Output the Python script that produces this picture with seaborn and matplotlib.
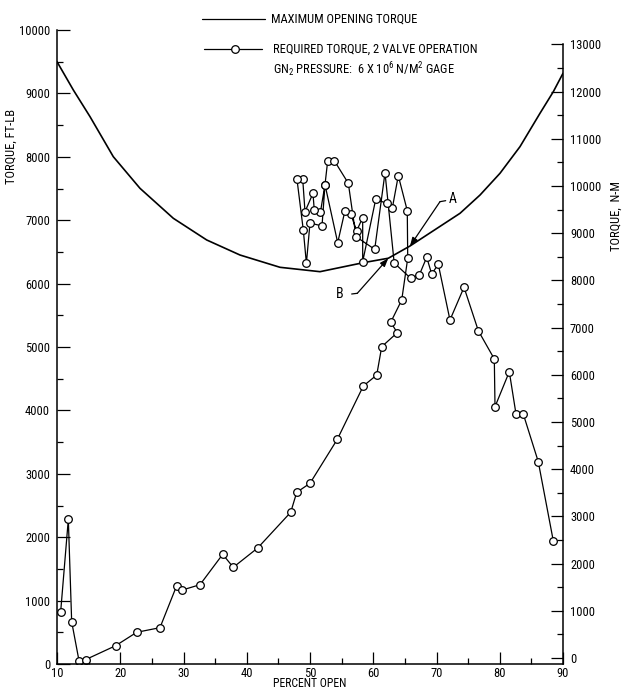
import matplotlib
matplotlib.use("Agg")
import matplotlib.pyplot as plt
from matplotlib.lines import Line2D
from matplotlib.ticker import MultipleLocator
from matplotlib import font_manager
import pandas as pd
import seaborn as sns

# Maximum opening torque envelope (ft-lb) vs percent open
max_open_pct = [10.0, 12.58, 15.22, 18.90, 23.12, 28.39, 33.67, 38.93, 45.26, 51.58,
                58.43, 62.38, 65.81, 73.72, 76.88, 80.04, 83.20, 86.36, 88.47, 90.0]
max_open_torque = [9500, 9054, 8633, 8002, 7503, 7030, 6688, 6451, 6257, 6188,
                   6330, 6400, 6593, 7109, 7397, 7740, 8160, 8686, 9027, 9317]

# Required torque, 2 valve operation, in the order the readings were taken
req_pct = [10.58, 11.79, 12.32, 13.48, 14.54, 19.28, 22.60, 26.28, 28.92, 29.81,
           32.61, 36.20, 37.87, 41.73, 46.95, 47.90, 50.00, 54.32, 58.43, 60.55,
           61.34, 63.80, 62.76, 64.50, 65.45, 65.38, 63.96, 63.01, 62.13, 60.39,
           58.33, 58.33, 57.38, 56.43, 55.53, 54.38, 52.37, 51.66, 50.68, 50.47,
           49.21, 48.85, 47.94, 48.94, 49.43, 50.00, 51.90, 52.37, 52.80, 53.84,
           56.06, 57.27, 60.23, 61.86, 63.31, 65.92, 67.28, 68.45, 69.24, 70.28,
           72.13, 74.35, 76.61, 79.14, 79.25, 81.51, 82.57, 83.72, 86.09, 88.47]
req_torque = [825, 2282, 667, 52, 70, 289, 500, 573, 1235, 1167,
              1251, 1730, 1525, 1830, 2393, 2708, 2850, 3544, 4385, 4558,
              5005, 5226, 5390, 5741, 6399, 7150, 7702, 7188, 7266, 7330,
              6346, 7040, 6834, 7098, 7150, 6645, 7560, 7134, 7153, 7424,
              7134, 7645, 7645, 6845, 6320, 6956, 6909, 7560, 7939, 7939,
              7582, 6740, 6541, 7749, 6325, 6084, 6136, 6415, 6151, 6305,
              5426, 5942, 5257, 4811, 4058, 4610, 3943, 3943, 3191, 1940]

x_ticks = [10, 20, 30, 40, 50, 60, 70, 80, 90]
ftlb_ticks = list(range(0, 10001, 1000))
nm_ticks = list(range(0, 13001, 1000))

# Callouts: letter position, bend of the leader, point on the envelope
callout_a = {"text": (72.62, 7330), "tail": (71.45, 7308), "bend": (70.55, 7292), "tip": (65.81, 6593)}
callout_b = {"text": (54.63, 5836), "tail": (56.59, 5836), "bend": (57.48, 5847), "tip": (62.38, 6400)}

sns.set_style("ticks", rc={"axes.edgecolor": "black", "text.color": "black",
                           "xtick.color": "black", "ytick.color": "black",
                           "axes.labelcolor": "black"})

# Prefer a narrow lettering face
installed = {f.name for f in font_manager.fontManager.ttflist}
families = [f for f in ("Liberation Sans Narrow", "Roboto Condensed", "Roboto",
                        "DejaVu Sans") if f in installed] or ["DejaVu Sans"]
narrow = families[0] in ("Liberation Sans Narrow", "Roboto Condensed")
plt.rcParams["font.family"] = families + (["DejaVu Sans"] if "DejaVu Sans" not in families else [])
plt.rcParams["mathtext.default"] = "regular"

FS = 9.0 if narrow else 8.2
TICK_FS = 9.0 if narrow else 8.4

W, H = 622, 689
fig = plt.figure(figsize=(W / 100, H / 100), dpi=100)
fig.patch.set_facecolor("white")
ax = fig.add_axes([57 / W, 1 - 664 / H, 506 / W, 634 / H])

max_df = pd.DataFrame({"pct": max_open_pct, "torque": max_open_torque})
req_df = pd.DataFrame({"pct": req_pct, "torque": req_torque})

sns.lineplot(data=max_df, x="pct", y="torque", sort=False, estimator=None,
             color="black", linewidth=1.2, ax=ax)
sns.lineplot(data=req_df, x="pct", y="torque", sort=False, estimator=None,
             color="black", linewidth=0.9, marker="o", markersize=5.5,
             markerfacecolor="white", markeredgecolor="black",
             markeredgewidth=0.9, ax=ax)

ax.set_xlim(10, 90)
ax.set_ylim(0, 10000)
ax.set_xticks(x_ticks)
ax.set_yticks(ftlb_ticks)
ax.xaxis.set_minor_locator(MultipleLocator(5))
ax.yaxis.set_minor_locator(MultipleLocator(500))
ax.tick_params(axis="both", which="major", direction="in", length=9, width=0.9,
               labelsize=TICK_FS)
ax.tick_params(axis="both", which="minor", direction="in", length=4.5, width=0.9)
ax.tick_params(axis="x", which="major", pad=2)
ax.tick_params(axis="y", which="major", pad=5)
for s in ("top", "right"):
    ax.spines[s].set_visible(False)
for s in ("left", "bottom"):
    ax.spines[s].set_linewidth(1.1)

ax.set_xlabel("PERCENT OPEN", fontsize=FS - 0.5)
ax.xaxis.set_label_coords(0.5, -0.0205)
ax.set_ylabel("TORQUE, FT-LB", fontsize=FS)
ax.yaxis.set_label_coords(-0.078, 0.817)

# Second scale in newton-metres
ax2 = ax.twinx()
ax2.set_ylim(-127, 13305)
ax2.set_yticks(nm_ticks)
ax2.yaxis.set_minor_locator(MultipleLocator(500))
ax2.tick_params(axis="y", which="major", direction="in", length=9, width=0.9,
                labelsize=TICK_FS, pad=5)
ax2.tick_params(axis="y", which="minor", direction="in", length=4.5, width=0.9)
for s in ("top", "left", "bottom"):
    ax2.spines[s].set_visible(False)
ax2.spines["right"].set_bounds(-127, 13000)
ax2.spines["right"].set_linewidth(1.1)
ax2.set_ylabel("TORQUE,  N-M", fontsize=FS)
ax2.yaxis.set_label_coords(1.093, 0.707)

# Callouts A and B
for lab, c in (("A", callout_a), ("B", callout_b)):
    ax.text(*c["text"], lab, fontsize=FS + 1, ha="center", va="center")
    ax.plot([c["tail"][0], c["bend"][0]], [c["tail"][1], c["bend"][1]],
            color="black", lw=0.9)
    ax.annotate("", xy=c["tip"], xytext=c["bend"],
                arrowprops=dict(arrowstyle="-|>,head_length=0.5,head_width=0.18",
                                color="black", lw=0.9, shrinkA=0, shrinkB=0))

# Key above the plot
def fx(px):
    return px / W

def fy(py):
    return 1 - py / H

fig.add_artist(Line2D([fx(202), fx(265)], [fy(19), fy(19)], color="black",
                      lw=0.9, transform=fig.transFigure))
fig.text(fx(271), fy(19), "MAXIMUM OPENING TORQUE", fontsize=FS, va="center")
fig.add_artist(Line2D([fx(204), fx(262)], [fy(49), fy(49)], color="black",
                      lw=0.9, transform=fig.transFigure))
fig.add_artist(Line2D([fx(235)], [fy(49)], color="black", marker="o",
                      markersize=5.5, markerfacecolor="white",
                      markeredgewidth=0.9, transform=fig.transFigure))
fig.text(fx(273), fy(49), "REQUIRED TORQUE, 2 VALVE OPERATION", fontsize=FS,
         va="center")
fig.text(fx(273), fy(70), "GN$_2$ PRESSURE:  6 X 10$^6$ N/M$^2$ GAGE",
         fontsize=FS, va="center")

fig.savefig("out.png", dpi=100, facecolor="white")
